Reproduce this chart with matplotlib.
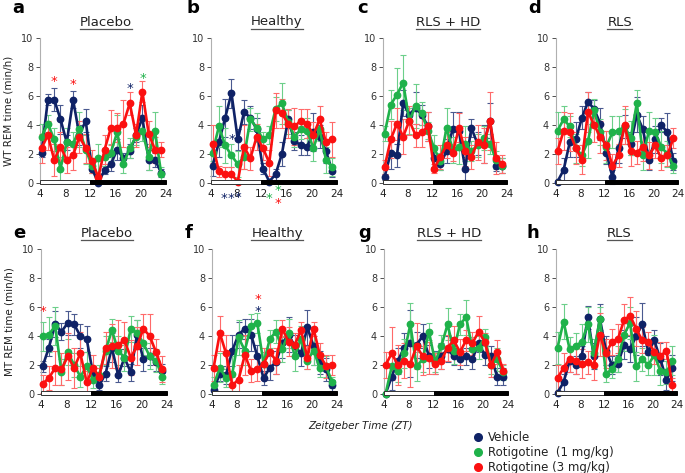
import matplotlib
matplotlib.use("Agg")
import matplotlib.pyplot as plt
from matplotlib.patches import Rectangle
from matplotlib.lines import Line2D

# hourly bins, ZT 4-24
zt = [4.25 + i for i in range(20)]

titles = ["Placebo", "Healthy", "RLS + HD", "RLS", "Placebo", "Healthy", "RLS + HD", "RLS"]
letters = ["a", "b", "c", "d", "e", "f", "g", "h"]

# ---- WT (top row) ----
a_veh = [2.1, 5.75, 5.75, 4.4, 2.8, 5.75, 3.3, 4.3, 1.0, 0.0, 0.9, 1.3, 2.3, 1.7, 2.2, 3.3, 4.5, 1.6, 1.6, 0.7]
a_r1 = [3.2, 4.1, 3.0, 1.0, 2.8, 2.7, 3.7, 2.3, 1.2, 1.7, 1.8, 2.1, 3.5, 1.3, 2.4, 3.2, 3.6, 1.8, 3.6, 0.6]
a_r3 = [2.4, 3.3, 1.6, 2.5, 1.6, 1.9, 3.2, 2.4, 1.5, 0.4, 2.3, 3.8, 3.8, 4.1, 5.5, 3.3, 6.3, 3.4, 2.3, 2.3]
a_veh_err = [0.3, 0.4, 0.8, 1.0, 0.5, 0.6, 0.7, 0.8, 0.3, 0.1, 0.3, 0.5, 0.7, 0.4, 0.5, 0.5, 0.9, 0.7, 0.5, 0.3]
a_r1_err = [0.9, 0.6, 0.8, 0.8, 1.0, 0.8, 1.2, 1.0, 0.5, 1.0, 0.6, 0.6, 1.2, 0.6, 0.7, 0.6, 0.7, 0.9, 1.3, 0.5]
a_r3_err = [1.0, 1.0, 1.1, 1.0, 0.9, 1.0, 1.1, 1.0, 0.8, 0.3, 1.0, 1.2, 1.0, 1.6, 0.8, 0.8, 0.7, 0.9, 0.9, 0.5]

b_veh = [1.2, 2.8, 4.5, 6.2, 3.0, 4.9, 4.5, 3.7, 1.0, 0.1, 0.6, 2.0, 4.4, 2.9, 2.6, 2.5, 3.5, 3.2, 2.2, 0.8]
b_r1 = [2.1, 3.9, 2.6, 1.9, 1.3, 1.8, 4.4, 3.8, 3.0, 3.3, 5.1, 5.5, 4.2, 3.2, 3.7, 3.6, 2.4, 3.7, 1.6, 1.1]
b_r3 = [2.7, 0.8, 0.6, 0.6, 0.1, 2.5, 1.7, 3.2, 2.4, 1.4, 5.0, 4.8, 4.1, 3.9, 4.3, 4.1, 3.3, 4.4, 2.8, 3.0]
b_veh_err = [0.7, 1.0, 1.3, 1.0, 0.7, 0.8, 0.8, 0.8, 0.4, 0.1, 0.4, 0.8, 0.6, 0.6, 0.7, 0.6, 1.3, 0.8, 0.8, 0.4]
b_r1_err = [0.6, 1.4, 1.2, 0.8, 0.9, 0.8, 0.8, 1.0, 0.5, 0.6, 0.8, 1.4, 0.8, 0.7, 0.7, 0.9, 0.9, 0.8, 0.9, 0.6]
b_r3_err = [1.3, 0.4, 0.5, 0.5, 0.1, 1.5, 0.8, 0.9, 0.8, 0.9, 1.2, 1.0, 1.0, 1.3, 0.8, 1.0, 0.9, 0.9, 0.7, 1.2]

c_veh = [0.4, 2.1, 1.9, 5.5, 4.7, 5.2, 4.7, 3.9, 1.7, 1.3, 2.2, 3.7, 3.6, 1.0, 3.8, 2.7, 2.7, 4.3, 1.2, 1.2]
c_r1 = [3.4, 5.4, 6.1, 6.9, 4.3, 5.3, 4.8, 3.6, 2.4, 1.5, 3.8, 2.3, 2.5, 2.7, 2.2, 2.6, 3.1, 2.7, 1.6, 1.2]
c_r3 = [1.1, 3.0, 4.1, 3.2, 4.3, 3.3, 3.5, 3.9, 1.0, 1.8, 2.6, 2.1, 3.8, 2.2, 1.8, 2.8, 2.6, 4.3, 1.7, 1.3]
c_veh_err = [0.2, 1.1, 0.8, 0.9, 0.5, 1.1, 0.7, 1.0, 0.6, 0.4, 0.8, 1.2, 1.3, 0.8, 0.6, 0.8, 1.3, 1.2, 0.4, 0.5]
c_r1_err = [0.5, 1.0, 1.8, 1.9, 0.9, 1.5, 0.8, 0.6, 0.9, 0.6, 1.4, 0.9, 1.2, 1.2, 0.7, 0.8, 0.8, 0.7, 0.6, 0.5]
c_r3_err = [0.5, 1.3, 1.1, 1.2, 1.0, 0.8, 1.0, 1.0, 0.3, 0.8, 0.9, 0.6, 1.0, 1.0, 0.8, 1.2, 1.2, 2.0, 1.1, 0.6]

d_veh = [0.1, 0.9, 2.8, 3.0, 4.5, 5.6, 5.1, 4.1, 2.1, 0.4, 2.4, 3.9, 2.7, 4.7, 3.7, 1.6, 3.0, 4.0, 3.5, 1.5]
d_r1 = [3.6, 4.4, 3.9, 2.4, 1.9, 2.9, 5.0, 3.5, 2.5, 3.5, 3.6, 3.9, 3.1, 5.5, 1.9, 3.6, 3.5, 2.5, 2.0, 1.2]
d_r3 = [2.2, 3.6, 3.5, 2.4, 1.6, 4.9, 4.0, 3.2, 2.6, 1.2, 1.9, 4.0, 2.2, 2.1, 2.5, 1.9, 2.6, 1.7, 1.9, 3.1]
d_veh_err = [0.1, 0.8, 1.0, 1.2, 0.8, 0.7, 0.6, 1.1, 0.8, 0.5, 1.0, 0.8, 0.8, 1.2, 0.9, 0.7, 0.9, 0.5, 1.3, 0.6]
d_r1_err = [1.3, 0.9, 0.7, 1.0, 0.7, 1.2, 0.8, 0.9, 1.1, 1.1, 1.0, 1.2, 1.2, 0.9, 1.0, 1.3, 1.0, 1.1, 0.9, 0.5]
d_r3_err = [0.9, 1.3, 1.3, 1.1, 1.0, 1.4, 1.2, 1.1, 1.0, 0.8, 0.8, 1.3, 1.0, 0.8, 1.0, 0.9, 0.9, 0.8, 0.7, 0.7]

# ---- MT (bottom row) ----
e_veh = [1.9, 3.2, 4.8, 4.3, 4.9, 4.8, 4.0, 3.8, 1.4, 0.6, 1.4, 3.2, 1.3, 2.5, 1.5, 4.1, 2.4, 2.6, 2.2, 1.6]
e_r1 = [4.0, 4.1, 4.7, 1.5, 2.9, 2.0, 1.2, 1.9, 1.0, 1.3, 3.0, 4.4, 3.0, 2.5, 4.5, 4.2, 3.5, 2.6, 2.3, 1.2]
e_r3 = [0.7, 1.1, 1.8, 1.7, 2.6, 1.8, 2.8, 0.8, 1.8, 1.2, 3.2, 3.3, 3.4, 3.7, 2.5, 3.3, 4.5, 4.0, 2.9, 1.7]
e_veh_err = [0.4, 0.6, 0.9, 0.6, 0.8, 0.7, 0.8, 0.9, 0.5, 0.3, 0.5, 1.0, 0.5, 0.6, 0.6, 1.0, 0.8, 0.6, 0.6, 0.5]
e_r1_err = [1.0, 1.2, 1.3, 0.9, 0.9, 0.8, 0.7, 1.0, 0.6, 0.7, 1.0, 0.8, 1.0, 0.9, 0.9, 0.9, 0.8, 0.9, 0.8, 0.5]
e_r3_err = [0.6, 0.8, 1.2, 1.1, 1.6, 1.4, 1.5, 0.8, 0.9, 0.6, 1.1, 1.5, 1.7, 1.3, 1.2, 1.3, 1.0, 1.5, 0.9, 0.9]

f_veh = [0.3, 1.4, 1.3, 3.0, 4.1, 4.5, 4.1, 2.6, 1.1, 1.8, 2.2, 3.5, 4.1, 3.3, 2.8, 4.6, 3.3, 2.2, 1.7, 0.6]
f_r1 = [0.6, 1.8, 1.1, 1.4, 3.9, 3.0, 4.7, 4.9, 2.1, 3.8, 4.3, 3.1, 4.2, 2.6, 3.8, 2.3, 3.0, 1.8, 1.9, 0.8]
f_r3 = [1.8, 4.2, 2.8, 0.6, 1.0, 2.7, 1.6, 1.7, 2.1, 2.9, 2.3, 4.5, 3.6, 3.4, 4.4, 2.5, 4.5, 2.7, 1.9, 2.0]
f_veh_err = [0.3, 0.5, 0.6, 1.1, 0.9, 0.7, 1.1, 0.8, 0.5, 0.8, 0.8, 1.0, 1.2, 0.8, 0.9, 1.2, 1.3, 0.8, 0.8, 0.4]
f_r1_err = [0.6, 1.0, 0.6, 1.2, 1.2, 1.0, 0.8, 0.7, 0.8, 0.6, 0.8, 0.9, 1.0, 1.0, 0.9, 0.6, 1.0, 0.6, 0.7, 0.4]
f_r3_err = [0.9, 1.2, 1.3, 0.6, 1.0, 1.4, 0.8, 0.8, 1.1, 1.0, 0.9, 0.6, 1.0, 0.8, 0.6, 0.8, 0.5, 0.8, 0.8, 0.7]

g_veh = [0.0, 1.2, 2.3, 3.2, 3.5, 3.4, 4.0, 2.6, 2.2, 2.6, 3.1, 2.6, 2.4, 2.6, 2.4, 3.5, 2.7, 2.6, 1.2, 1.2]
g_r1 = [0.0, 1.9, 1.6, 2.8, 4.8, 1.9, 2.4, 4.3, 2.2, 3.3, 4.8, 3.0, 4.8, 5.3, 3.1, 3.2, 3.9, 2.0, 2.4, 1.5]
g_r3 = [2.0, 2.8, 2.0, 2.3, 2.1, 3.3, 2.6, 2.5, 2.1, 2.3, 3.2, 3.7, 2.9, 3.7, 3.5, 4.3, 3.6, 2.0, 2.9, 1.6]
g_veh_err = [0.1, 0.9, 0.9, 1.0, 2.3, 0.9, 0.8, 0.8, 0.8, 0.9, 0.9, 0.6, 0.7, 0.6, 0.7, 0.6, 0.7, 0.7, 0.6, 0.6]
g_r1_err = [0.1, 0.8, 0.8, 1.0, 1.5, 1.0, 0.9, 0.6, 0.7, 0.8, 1.1, 0.9, 0.7, 1.2, 0.8, 0.8, 0.6, 0.6, 0.8, 0.5]
g_r3_err = [0.9, 1.8, 1.4, 1.2, 1.6, 1.6, 1.3, 1.1, 0.7, 0.6, 0.9, 1.0, 0.9, 0.7, 0.8, 1.1, 0.6, 0.8, 0.8, 0.5]

h_veh = [0.1, 0.8, 2.3, 2.0, 2.6, 5.3, 2.6, 5.2, 3.0, 2.0, 2.1, 3.4, 3.1, 4.0, 4.8, 2.9, 3.7, 2.4, 1.0, 1.8]
h_r1 = [3.2, 5.0, 3.1, 3.3, 3.6, 4.8, 2.8, 5.2, 1.4, 1.7, 2.4, 4.1, 4.9, 1.9, 2.4, 2.0, 2.7, 1.6, 1.5, 2.3]
h_r3 = [1.1, 1.8, 2.4, 2.3, 2.1, 2.2, 2.0, 4.1, 2.8, 3.6, 3.8, 5.1, 5.4, 4.5, 3.7, 3.6, 2.9, 2.6, 3.0, 0.6]
h_veh_err = [0.1, 0.6, 0.8, 0.6, 0.7, 0.8, 0.9, 1.0, 1.0, 0.6, 0.6, 1.0, 0.9, 1.3, 1.5, 0.8, 0.7, 1.1, 0.7, 0.9]
h_r1_err = [1.1, 1.2, 0.8, 0.9, 1.2, 1.2, 1.0, 0.8, 0.6, 0.6, 0.9, 1.1, 1.1, 1.0, 0.8, 0.7, 1.4, 1.0, 0.8, 1.0]
h_r3_err = [0.9, 1.0, 0.9, 0.9, 1.0, 0.8, 1.0, 1.5, 1.0, 0.9, 1.0, 1.1, 1.3, 1.2, 0.9, 0.7, 0.8, 1.0, 0.6, 0.5]

# significance stars: (panel, x, y, series index)
stars = [
    (0, 6.2, 7.0, 2), (0, 9.2, 6.8, 2), (0, 18.2, 6.5, 0), (0, 20.3, 7.2, 1),
    (1, 7.3, 3.0, 0), (1, 6.0, -1.1, 0), (1, 7.1, -1.1, 0), (1, 8.2, -1.0, 0),
    (1, 13.2, -1.1, 1), (1, 14.6, -0.5, 1), (1, 14.6, -1.4, 2),
    (4, 4.3, 5.7, 2), (5, 11.3, 5.7, 0), (5, 11.3, 6.5, 2),
]

series_names = ["Vehicle", "Rotigotine  (1 mg/kg)", "Rotigotine (3 mg/kg)"]
colors = ["#0f2266", "#1fb24a", "#fb1010"]
err_colors = ["#4a5a90", "#6ccf8a", "#ff6a6a"]

panels = [
    (a_veh, a_r1, a_r3, a_veh_err, a_r1_err, a_r3_err),
    (b_veh, b_r1, b_r3, b_veh_err, b_r1_err, b_r3_err),
    (c_veh, c_r1, c_r3, c_veh_err, c_r1_err, c_r3_err),
    (d_veh, d_r1, d_r3, d_veh_err, d_r1_err, d_r3_err),
    (e_veh, e_r1, e_r3, e_veh_err, e_r1_err, e_r3_err),
    (f_veh, f_r1, f_r3, f_veh_err, f_r1_err, f_r3_err),
    (g_veh, g_r1, g_r3, g_veh_err, g_r1_err, g_r3_err),
    (h_veh, h_r1, h_r3, h_veh_err, h_r1_err, h_r3_err),
]

W, H = 685, 473
fig = plt.figure(figsize=(W / 100, H / 100), dpi=100)

# axes boxes in pixels: left, right, top(y of 10), bottom(y of 0)
boxes = [
    (40, 166, 38, 183), (211, 337, 38, 183), (383, 507, 38, 183), (556, 678, 38, 183),
    (41, 167, 249, 394), (212, 337, 249, 394), (384, 508, 249, 394), (556, 677, 249, 394),
]
letter_pos = [(12, 8), (186, 8), (357, 8), (528, 8), (13, 233), (185, 233), (358, 233), (527, 233)]

axes = []
for k, (l, r, t, b) in enumerate(boxes):
    ax = fig.add_axes([l / W, (H - b) / H, (r - l) / W, (b - t) / H])
    axes.append(ax)
    ax.set_xlim(4, 24)
    ax.set_ylim(0, 10)
    ax.set_yticks([0, 2, 4, 6, 8, 10])
    ax.set_xticks([4, 8, 12, 16, 20, 24])
    for s in ["top", "right", "bottom"]:
        ax.spines[s].set_visible(False)
    ax.spines["left"].set_color("#b0b0b0")
    ax.spines["left"].set_linewidth(0.8)
    ax.tick_params(axis="y", labelsize=7, colors="#333333", length=3, width=0.6, pad=2)
    ax.tick_params(axis="x", labelsize=7.5, colors="#222222", length=0, pad=4)
    ax.set_facecolor("none")

    data = panels[k]
    for j in range(3):
        ax.errorbar(zt, data[j], yerr=data[j + 3], fmt="none", ecolor=err_colors[j],
                    elinewidth=0.8, capsize=2.5, capthick=0.8, zorder=2 + j, clip_on=False)
    for j in range(3):
        ax.plot(zt, data[j], color=colors[j], lw=1.9, marker="o", ms=4.6,
                zorder=5 + j, clip_on=False)

    # light / dark bar
    ax.add_patch(Rectangle((4, -0.08), 8, 0.28, facecolor="white", edgecolor="#333333",
                           lw=0.7, clip_on=False, zorder=10))
    ax.add_patch(Rectangle((12, -0.08), 12, 0.28, facecolor="black", edgecolor="black",
                           lw=0.7, clip_on=False, zorder=10))

    fig.text(letter_pos[k][0] / W, 1 - letter_pos[k][1] / H, letters[k], fontsize=13,
             fontweight="bold", ha="left", va="center")

for (p, x, y, j) in stars:
    axes[p].text(x, y, "*", color=colors[j], fontsize=9.5, ha="center", va="center",
                 clip_on=False, zorder=20)

axes[0].set_ylabel("WT REM time (min/h)", fontsize=7.5, color="#222222", labelpad=5)
axes[4].set_ylabel("MT REM time (min/h)", fontsize=7.5, color="#222222", labelpad=5)

# underlined titles
fig.canvas.draw()
renderer = fig.canvas.get_renderer()
for k, ax in enumerate(axes):
    l, r, t, b = boxes[k]
    cx = (l + r) / 2 / W + 0.004
    ty = t - 16
    txt = fig.text(cx, 1 - ty / H, titles[k], fontsize=9.5, ha="center", va="center",
                   color="#222222")
    bb = txt.get_window_extent(renderer)
    y_line = (bb.y0 - 1) / H
    fig.add_artist(Line2D([bb.x0 / W, bb.x1 / W], [y_line, y_line], color="#555555", lw=0.9))

fig.text(360 / W, 1 - 426 / H, "Zeitgeber Time (ZT)", fontsize=7.5, style="italic",
         ha="center", va="center", color="#222222")

for j in range(3):
    yy = 1 - (437 + 15 * j) / H
    fig.add_artist(Line2D([478 / W], [yy], marker="o", ms=5.5, color=colors[j], lw=0))
    fig.text(488 / W, yy, series_names[j], fontsize=8.5, ha="left", va="center",
             color="#222222")

fig.savefig("out.png", dpi=100)
